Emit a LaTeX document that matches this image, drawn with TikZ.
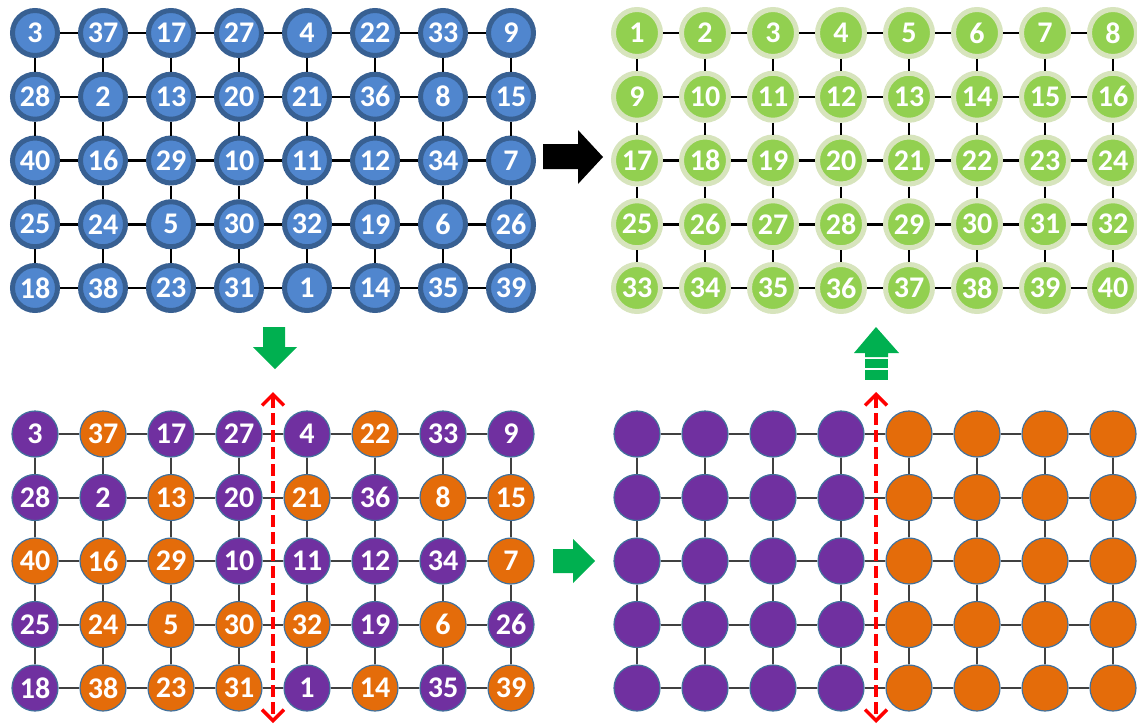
\documentclass[tikz,border=0pt]{standalone}
\usepackage{fontspec}
\setmainfont{Carlito}
\usetikzlibrary{arrows.meta}

\definecolor{blueFill}{RGB}{80,134,206}
\definecolor{blueRim}{RGB}{56,96,146}
\definecolor{greenFill}{RGB}{146,208,80}
\definecolor{greenRim}{RGB}{215,228,189}
\definecolor{cP}{RGB}{112,48,160}
\definecolor{cO}{RGB}{228,108,10}
\definecolor{thinRim}{RGB}{65,113,156}
\definecolor{gridGray}{RGB}{64,64,64}
\definecolor{arrowGreen}{RGB}{0,176,80}

\begin{document}
\begin{tikzpicture}[x=1pt,y=-1pt,
  num/.style={font=\fontsize{30}{32}\selectfont\bfseries, text=white},
  bluenode/.style={circle, inner sep=0pt, minimum size=45pt, line width=5pt,
    draw=blueRim, fill=blueFill, num},
  greennode/.style={circle, inner sep=0pt, minimum size=47pt, line width=5pt,
    draw=greenRim, fill=greenFill, num},
  flatnode/.style={circle, inner sep=0pt, minimum size=46pt, line width=1.2pt,
    draw=thinRim, num},
  edgeTop/.style={line width=2.5pt, black},
  edgeLow/.style={line width=2pt, gridGray},
  cutline/.style={line width=3.5pt, red, dash pattern=on 12pt off 5pt,
    {Straight Barb[length=11pt,width=22pt,line width=3.5pt]}-{Straight Barb[length=11pt,width=22pt,line width=3.5pt]}},
  bigarrow/.style={fill=arrowGreen, draw=none}
]
\useasboundingbox (0,0) rectangle (1137,725);

% initial placement (blue, top left)
\foreach \row [count=\r] in {
  {3,37,17,27,4,22,33,9},
  {28,2,13,20,21,36,8,15},
  {40,16,29,10,11,12,34,7},
  {25,24,5,30,32,19,6,26},
  {18,38,23,31,1,14,35,39}} {
  \foreach \v [count=\c] in \row {
    \node[bluenode] (A-\r-\c) at ({35+68*(\c-1)},{33+63.75*(\r-1)}) {\v};
  }
}

% sorted result (green, top right)
\foreach \r in {1,...,5} {
  \foreach \c in {1,...,8} {
    \pgfmathtruncatemacro\v{8*(\r-1)+\c}
    \node[greennode] (B-\r-\c) at ({637+68*(\c-1)},{33+63.75*(\r-1)}) {\v};
  }
}

% split into two halves (bottom left)
\foreach \row [count=\r] in {
  {3/cP,37/cO,17/cP,27/cP,4/cP,22/cO,33/cP,9/cP},
  {28/cP,2/cP,13/cO,20/cP,21/cO,36/cP,8/cO,15/cO},
  {40/cO,16/cO,29/cO,10/cP,11/cP,12/cP,34/cP,7/cO},
  {25/cP,24/cO,5/cO,30/cO,32/cO,19/cP,6/cO,26/cP},
  {18/cP,38/cO,23/cO,31/cO,1/cP,14/cO,35/cP,39/cO}} {
  \foreach \v/\k [count=\c] in \row {
    \node[flatnode, fill=\k] (C-\r-\c) at ({35+68*(\c-1)},{434+63.5*(\r-1)}) {\v};
  }
}

% regrouped halves (bottom right)
\foreach \r in {1,...,5} {
  \foreach \c in {1,...,8} {
    \ifnum\c<5 \def\k{cP}\else\def\k{cO}\fi
    \node[flatnode, fill=\k] (D-\r-\c) at ({637+68*(\c-1)},{434+63.5*(\r-1)}) {};
  }
}

% mesh links
\foreach \g/\st in {A/edgeTop,B/edgeTop,C/edgeLow,D/edgeLow} {
  \foreach \r in {1,...,5} {
    \foreach \c in {1,...,7} {
      \pgfmathtruncatemacro\n{\c+1}
      \draw[\st] (\g-\r-\c) -- (\g-\r-\n);
    }
  }
  \foreach \r in {1,...,4} {
    \pgfmathtruncatemacro\n{\r+1}
    \foreach \c in {1,...,8} {
      \draw[\st] (\g-\r-\c) -- (\g-\n-\c);
    }
  }
}

% cut lines between the halves
\coordinate (cutL-top) at (273,392);
\coordinate (cutL-bot) at (273,723);
\coordinate (cutR-top) at (876,392);
\coordinate (cutR-bot) at (876,723);
\draw[cutline] (cutL-top) -- (cutL-bot);
\draw[cutline] (cutR-top) -- (cutR-bot);

% block arrows between the stages
\fill[black] (543,144) -- (578,144) -- (578,130) -- (603,157) -- (578,184)
  -- (578,169) -- (543,169) -- cycle;
\path[bigarrow] (263,327) -- (285,327) -- (285,347) -- (297,347) -- (275,369)
  -- (253,347) -- (263,347) -- cycle;
\path[bigarrow] (553,549) -- (573,549) -- (573,539) -- (595,561) -- (573,583)
  -- (573,573) -- (553,573) -- cycle;
\path[bigarrow] (876,327) -- (899,353) -- (888,353) -- (888,357) -- (865,357)
  -- (865,353) -- (854,353) -- cycle;
\path[bigarrow] (865,358.5) rectangle (888,368);
\path[bigarrow] (865,370) rectangle (888,380);
\end{tikzpicture}
\end{document}
